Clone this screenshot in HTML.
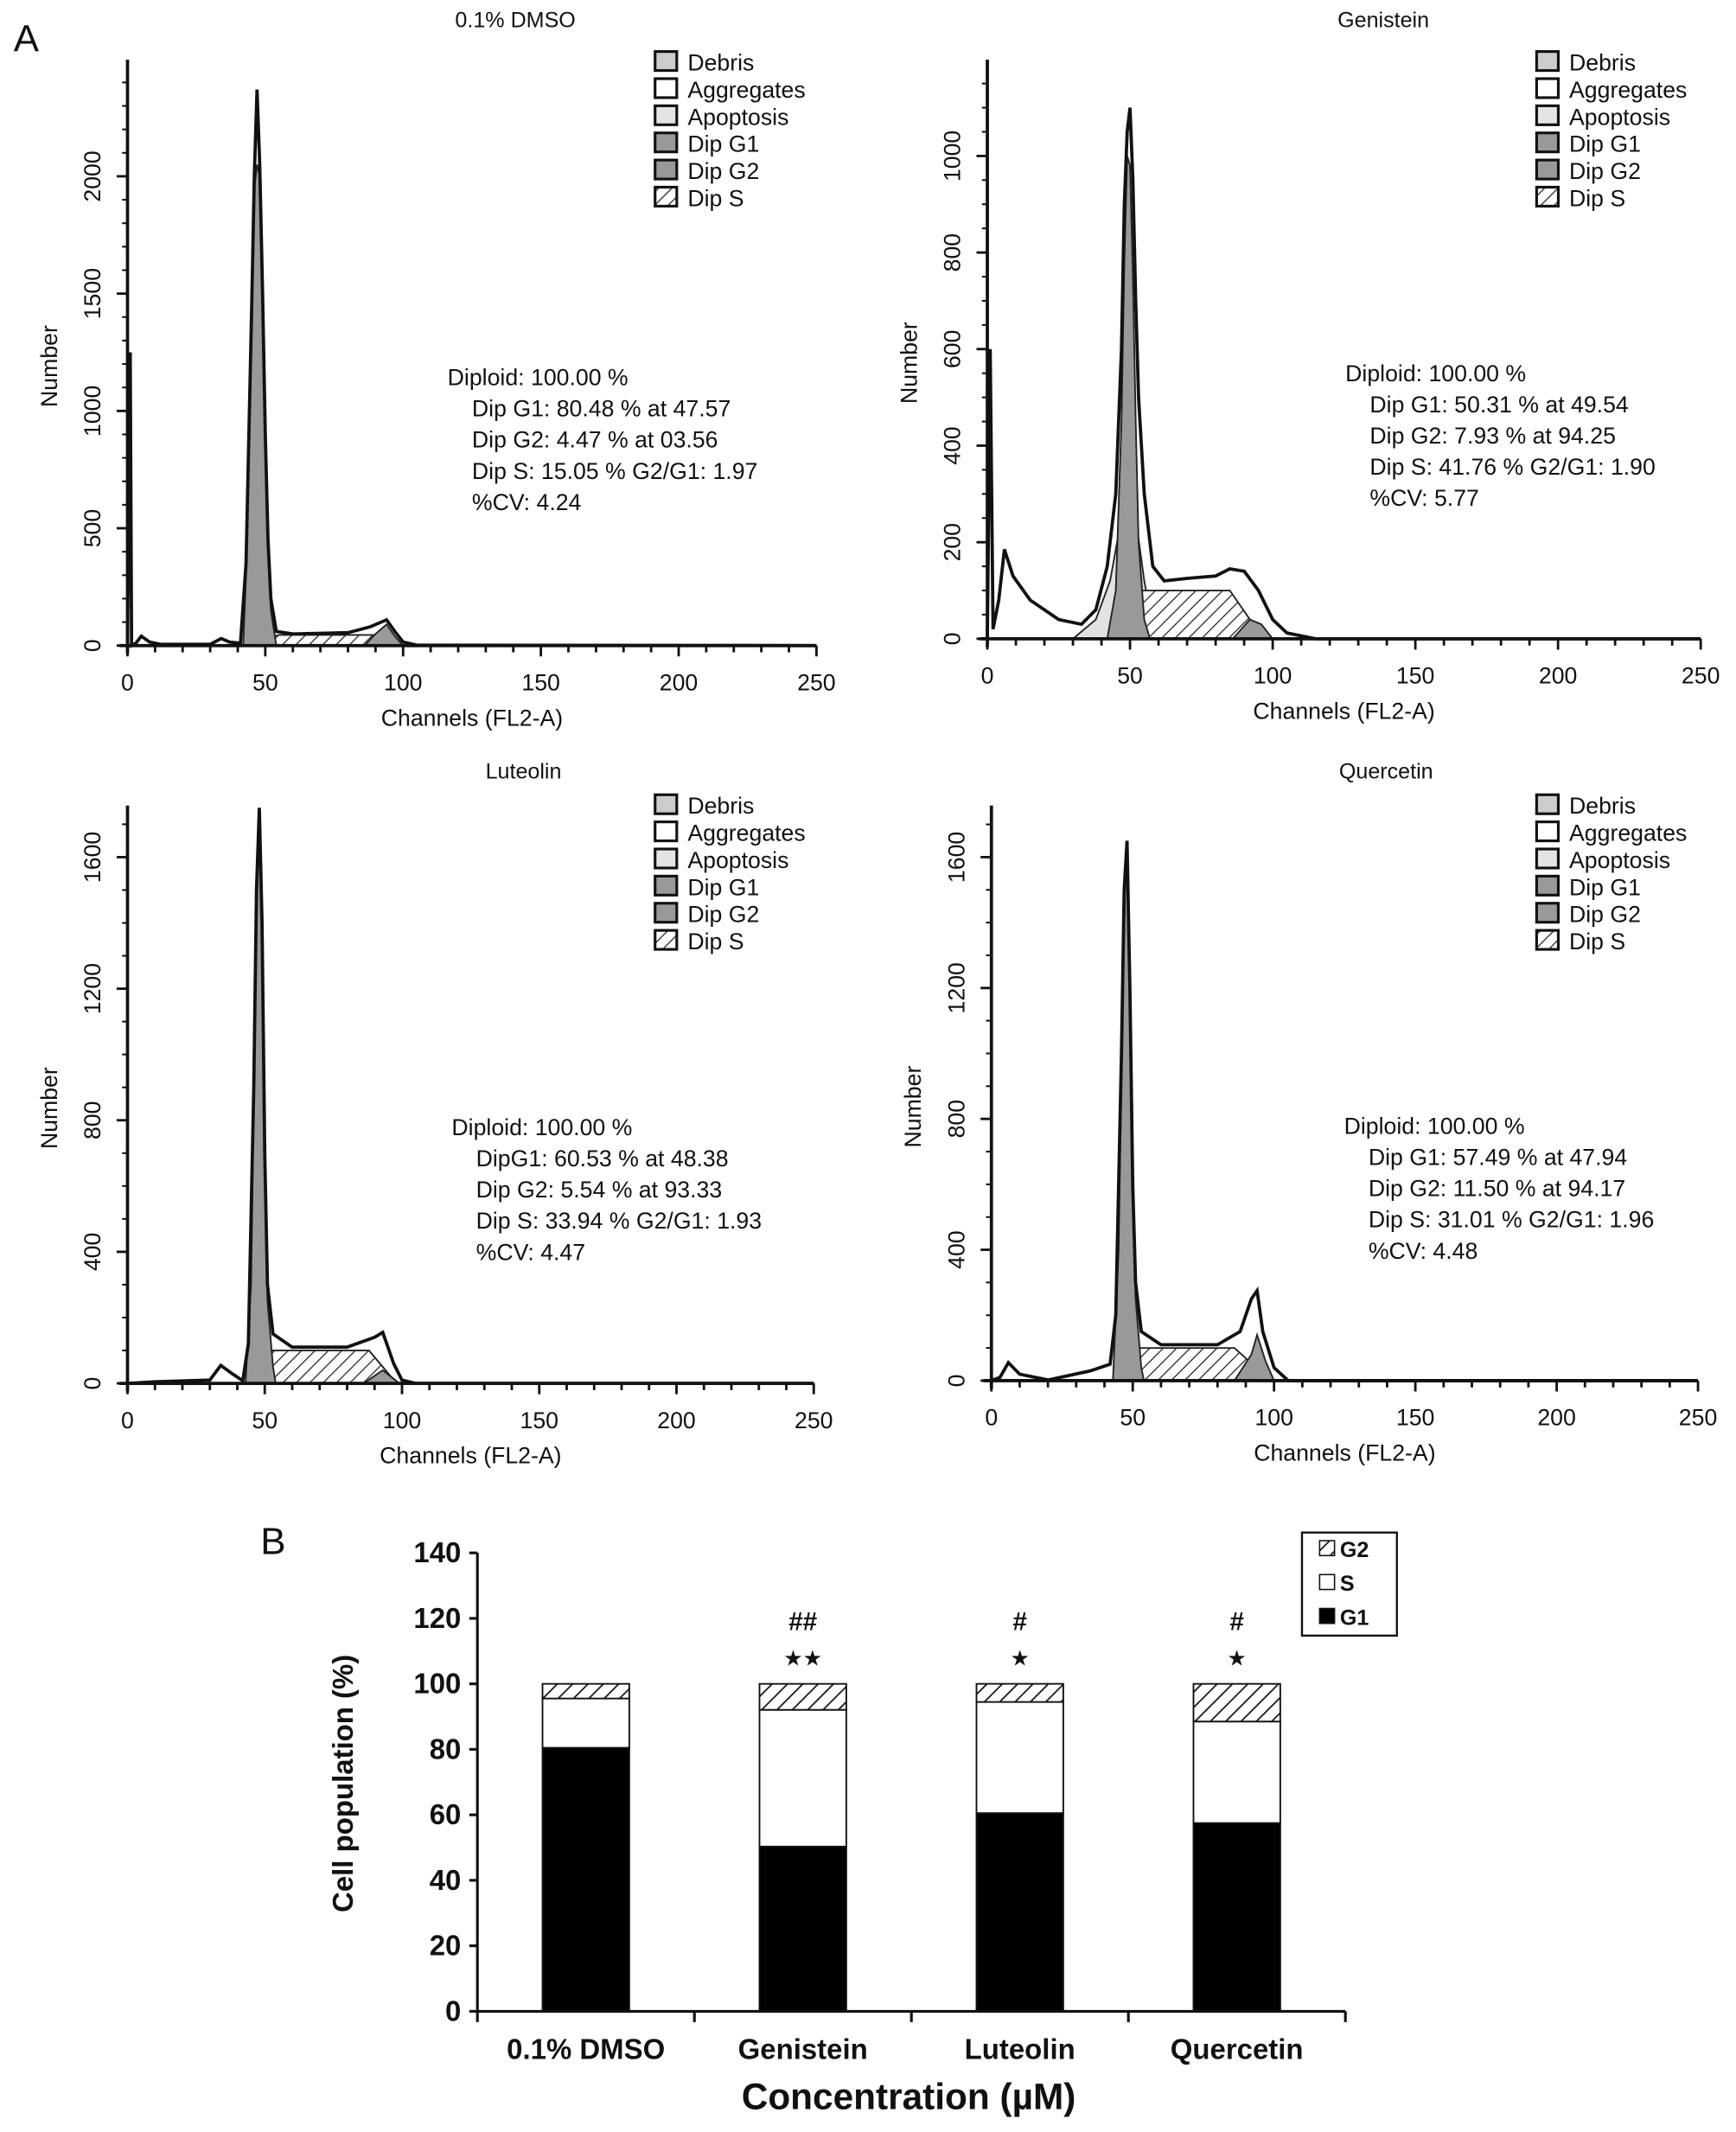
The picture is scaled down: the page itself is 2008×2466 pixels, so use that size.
<!DOCTYPE html>
<html><head><meta charset="utf-8"><style>
html,body{margin:0;padding:0;background:#fff}
svg{display:block}
text{font-family:"Liberation Sans",Arial,sans-serif;fill:#111}
</style></head><body>
<svg id="fig" width="2008" height="2466" viewBox="0 0 1280 1572" xmlns="http://www.w3.org/2000/svg">
<defs>
<pattern id="hatch" patternUnits="userSpaceOnUse" width="7" height="7" patternTransform="rotate(45)">
<rect width="7" height="7" fill="#fff"/><line x1="0" y1="0" x2="0" y2="7" stroke="#222" stroke-width="1.6"/></pattern>
<pattern id="hatch2" patternUnits="userSpaceOnUse" width="8" height="8" patternTransform="rotate(45)">
<rect width="8" height="8" fill="#fff"/><line x1="0" y1="0" x2="0" y2="8" stroke="#111" stroke-width="2.2"/></pattern>
</defs>
<text x="10" y="38" font-size="28">A</text>
<text x="192" y="1146" font-size="28">B</text>
<g id="hists"></g>
<g id="bars"></g>
</svg>
<script>
// ---------- Histogram data (channel, count) ----------
const dmsoEnv=[[0,0],[1,1250],[1.5,0],[3,10],[5,40],[8,15],[12,5],[30,5],[34,30],[37,15],[41,10],[43,350],[45,1400],[46,2000],[47,2370],[48,2050],[49,1500],[50,900],[51,450],[52,200],[54,60],[60,50],[80,55],[88,80],[94,110],[97,60],[100,15],[105,2],[250,0]];
const dmsoG1=[[42,0],[43,300],[45,1350],[46,1950],[47,2050],[48,2000],[49,1450],[50,850],[51,400],[52,150],[54,0]];
const dmsoS=[[47,0],[50,30],[55,45],[90,45],[95,10],[96,0]];
const dmsoG2=[[86,0],[90,50],[94,90],[97,40],[100,0]];
const dmsoApo=[];

const genEnv=[[0,0],[1,600],[2,20],[4,80],[6,185],[9,130],[15,80],[25,40],[33,30],[38,60],[42,150],[45,300],[47,600],[48,900],[49,1050],[50,1100],[51,950],[52,700],[53,500],[55,300],[58,150],[62,120],[70,125],[80,130],[85,145],[90,140],[95,100],[100,40],[105,12],[115,0],[250,0]];
const genG1=[[42,0],[45,100],[47,450],[48,780],[49,1000],[50,980],[51,750],[52,450],[53,200],[55,40],[57,0]];
const genS=[[48,0],[52,100],[85,100],[92,40],[98,0]];
const genG2=[[86,0],[92,40],[96,30],[100,0]];
const genApo=[[30,0],[38,40],[43,120],[47,250],[52,250],[55,120],[58,30],[60,0]];

const lutEnv=[[0,0],[10,5],[30,10],[34,55],[38,30],[42,8],[44,120],[46,900],[47,1500],[48,1750],[49,1400],[50,700],[51,300],[53,150],[60,110],[80,110],[90,140],[93,155],[97,60],[100,10],[105,0],[250,0]];
const lutG1=[[43,0],[45,300],[46,850],[47,1450],[48,1700],[49,1350],[50,650],[51,250],[53,50],[54,0]];
const lutS=[[47,0],[52,100],[88,100],[96,20],[99,0]];
const lutG2=[[86,0],[93,40],[99,0]];
const lutApo=[];

const queEnv=[[0,0],[3,10],[6,55],[10,20],[20,2],[35,30],[42,50],[44,200],[46,1000],[47,1500],[48,1650],[49,1200],[50,600],[51,300],[53,150],[60,110],[80,110],[88,150],[92,250],[94,275],[96,150],[100,40],[105,0],[250,0]];
const queG1=[[43,0],[45,400],[46,950],[47,1450],[48,1600],[49,1150],[50,550],[51,250],[53,40],[54,0]];
const queS=[[47,0],[52,100],[86,100],[95,30],[98,0]];
const queG2=[[86,0],[92,80],[94,140],[97,60],[100,0]];
const queApo=[];

// ---------- Bar chart data ----------
const barCategories=["0.1% DMSO","Genistein","Luteolin","Quercetin"];
const g1Values=[80.48,50.31,60.53,57.49];
const sValues=[15.05,41.76,33.94,31.01];
const g2Values=[4.47,7.93,5.54,11.50];
const hashMarks=["","##","#","#"];
const starMarks=["","★★","★","★"];
const barTicks=[0,20,40,60,80,100,120,140];

const NS="http://www.w3.org/2000/svg";
function mk(tag,attrs,parent){const e=document.createElementNS(NS,tag);for(const k in attrs)e.setAttribute(k,attrs[k]);parent.appendChild(e);return e;}

const panels=[
 {title:"0.1% DMSO",x0:94,x1:602,y0:476,yTop:44,perUnit:(476-130)/2000,yTicks:[0,500,1000,1500,2000],yMax:2450,minorStep:100,env:dmsoEnv,g1:dmsoG1,s:dmsoS,g2:dmsoG2,apo:dmsoApo,tx:380,ty:20,lx:483,ly:38,sx:330,sy:284,stats:["Diploid: 100.00 %","Dip G1: 80.48 % at 47.57","Dip G2: 4.47 % at 03.56","Dip S: 15.05 % G2/G1: 1.97","%CV: 4.24"],key:"dmso"},
 {title:"Genistein",x0:728,x1:1254,y0:471,yTop:44,perUnit:(471-115)/1000,yTicks:[0,200,400,600,800,1000],yMax:1200,minorStep:50,env:genEnv,g1:genG1,s:genS,g2:genG2,apo:genApo,tx:1020,ty:20,lx:1133,ly:38,sx:992,sy:281,stats:["Diploid: 100.00 %","Dip G1: 50.31 % at 49.54","Dip G2: 7.93 % at 94.25","Dip S: 41.76 % G2/G1: 1.90","%CV: 5.77"],key:"genistein"},
 {title:"Luteolin",x0:94,x1:600,y0:1020,yTop:594,perUnit:(1020-632)/1600,yTicks:[0,400,800,1200,1600],yMax:1750,minorStep:100,env:lutEnv,g1:lutG1,s:lutS,g2:lutG2,apo:lutApo,tx:386,ty:574,lx:483,ly:586,sx:333,sy:837,stats:["Diploid: 100.00 %","DipG1: 60.53 % at 48.38","Dip G2: 5.54 % at 93.33","Dip S: 33.94 % G2/G1: 1.93","%CV: 4.47"],key:"luteolin"},
 {title:"Quercetin",x0:731,x1:1252,y0:1018,yTop:594,perUnit:(1018-632)/1600,yTicks:[0,400,800,1200,1600],yMax:1750,minorStep:100,env:queEnv,g1:queG1,s:queS,g2:queG2,apo:queApo,tx:1022,ty:574,lx:1133,ly:586,sx:991,sy:836,stats:["Diploid: 100.00 %","Dip G1: 57.49 % at 47.94","Dip G2: 11.50 % at 94.17","Dip S: 31.01 % G2/G1: 1.96","%CV: 4.48"],key:"quercetin"}
];
const legendItems=[["Debris","#ccc"],["Aggregates","#fff"],["Apoptosis","#e4e4e4"],["Dip G1","#999"],["Dip G2","#999"],["Dip S","url(#hatch)"]];

const H=document.getElementById('hists');
panels.forEach(p=>{
 const g=mk('g',{},H);
 
 
 const xs=c=>p.x0+(p.x1-p.x0)*c/250;
 const ys=v=>p.y0-v*p.perUnit;
 const poly=(arr)=>arr.map(d=>xs(d[0]).toFixed(1)+','+ys(d[1]).toFixed(1)).join(' ');
 const t=mk('text',{x:p.tx,y:p.ty,'font-size':16,'text-anchor':'middle'},g);t.textContent=p.title;
 
 
 if(p.apo.length){const e=mk('polygon',{points:poly(p.apo),fill:'#e2e2e2',stroke:'#222','stroke-width':1.2},g);
  }
 const sA=mk('polygon',{points:poly(p.s),fill:'url(#hatch)',stroke:'#222','stroke-width':1.2},g);
 
 const g2A=mk('polygon',{points:poly(p.g2),fill:'#9a9a9a',stroke:'#222','stroke-width':1.2},g);
 
 const g1A=mk('polygon',{points:poly(p.g1),fill:'#999',stroke:'#222','stroke-width':1.2},g);
 
 const env=mk('polyline',{points:poly(p.env),fill:'none',stroke:'#111','stroke-width':2.4},g);
 
 const ax=mk('g',{},g);
 mk('line',{x1:xs(0)-6,y1:p.y0,x2:xs(250),y2:p.y0,stroke:'#111','stroke-width':2.4},ax);
 mk('line',{x1:xs(0),y1:p.y0+6,x2:xs(0),y2:p.yTop,stroke:'#111','stroke-width':2.4},ax);
 for(let c=0;c<=250;c+=10){const major=c%50===0;
  mk('line',{x1:xs(c),y1:p.y0,x2:xs(c),y2:p.y0+(major?8:5),stroke:'#111','stroke-width':1.8},ax);
  if(major){const tl=mk('text',{x:xs(c),y:p.y0+33,'font-size':17,'text-anchor':'middle'},ax);tl.textContent=c;}}
 for(let v=0;v<=p.yMax;v+=p.minorStep){const yy=ys(v);if(yy<p.yTop)break;
  mk('line',{x1:xs(0)-4,y1:yy,x2:xs(0),y2:yy,stroke:'#111','stroke-width':1.3},ax);}
 p.yTicks.forEach(v=>{const yy=ys(v);mk('line',{x1:xs(0)-8,y1:yy,x2:xs(0),y2:yy,stroke:'#111','stroke-width':1.8},ax);
  const tl=mk('text',{x:xs(0)-20,y:yy,'font-size':17,'text-anchor':'middle',transform:`rotate(-90 ${xs(0)-20} ${yy})`},ax);tl.textContent=v;});
 const xl=mk('text',{x:(xs(0)+xs(250))/2,y:p.y0+59,'font-size':17,'text-anchor':'middle'},g);xl.textContent='Channels (FL2-A)';
 
 const ylx=xs(0)-52,yly=(p.y0+p.yTop)/2+10;
 const yl=mk('text',{x:ylx,y:yly,'font-size':17,'text-anchor':'middle',transform:`rotate(-90 ${ylx} ${yly})`},g);yl.textContent='Number';
 
 const lg=mk('g',{},g);
 legendItems.forEach((it,i)=>{const yy=p.ly+i*20;
  mk('rect',{x:p.lx,y:yy,width:16,height:14,fill:it[1],stroke:'#111','stroke-width':2},lg);
  const tt=mk('text',{x:p.lx+24,y:yy+14,'font-size':17},lg);tt.textContent=it[0];});
 const st=mk('g',{},g);
 p.stats.forEach((s,i)=>{const tt=mk('text',{x:p.sx+(i?18:0),y:p.sy+i*23,'font-size':17},st);tt.textContent=s;});
});

// ---------- Bar chart ----------
const B=document.getElementById('bars');


const bx0=352,bx1=992,by0=1483,byPer=(1483-1145)/140,bw=64;
const byS=v=>by0-v*byPer;
const bxC=i=>bx0+(bx1-bx0)*(i+0.5)/barCategories.length;
barCategories.forEach((c,i)=>{
 const cx=bxC(i);
 const bars=[[g1Values[i],'#000','g1'],[sValues[i],'#fff','s'],[g2Values[i],'url(#hatch2)','g2']];
 let acc=0;
 bars.forEach(b=>{const r=mk('rect',{x:cx-bw/2,y:byS(acc+b[0]),width:bw,height:b[0]*byPer,fill:b[1],stroke:'#111','stroke-width':1.2},B);
  acc+=b[0];});
 const lab=mk('text',{x:cx,y:1518,'font-size':21,'font-weight':'bold','text-anchor':'middle'},B);lab.textContent=c;
 
 if(hashMarks[i]){const h=mk('text',{x:cx,y:1202,'font-size':19,'font-weight':'bold','text-anchor':'middle'},B);h.textContent=hashMarks[i];
  
  const s=mk('text',{x:cx,y:1228,'font-size':16,'text-anchor':'middle'},B);s.textContent=starMarks[i];
  }
});
mk('line',{x1:bx0,y1:by0,x2:bx1,y2:by0,stroke:'#111','stroke-width':2},B);
mk('line',{x1:bx0,y1:by0,x2:bx0,y2:byS(140),stroke:'#111','stroke-width':2},B);
for(let i=0;i<=barCategories.length;i++){const xx=bx0+(bx1-bx0)*i/barCategories.length;mk('line',{x1:xx,y1:by0,x2:xx,y2:by0+8,stroke:'#111','stroke-width':2},B);}
barTicks.forEach(v=>{mk('line',{x1:bx0-6,y1:byS(v),x2:bx0,y2:byS(v),stroke:'#111','stroke-width':2},B);
 const t=mk('text',{x:bx0-12,y:byS(v)+7,'font-size':21,'font-weight':'bold','text-anchor':'end'},B);t.textContent=v;});
const byt=mk('text',{x:260,y:1315,'font-size':21,'font-weight':'bold','text-anchor':'middle',transform:'rotate(-90 260 1315)'},B);byt.textContent='Cell population (%)';

const bxt=mk('text',{x:670,y:1555,'font-size':27,'font-weight':'bold','text-anchor':'middle'},B);bxt.textContent='Concentration (µM)';

const blg=mk('g',{},B);
mk('rect',{x:960,y:1130,width:70,height:76,fill:'#fff',stroke:'#111','stroke-width':1.5},blg);
[["G2","url(#hatch2)"],["S","#fff"],["G1","#000"]].forEach((it,i)=>{const yy=1136+i*25;
 mk('rect',{x:973,y:yy,width:11,height:11,fill:it[1],stroke:'#111','stroke-width':1},blg);
 const t=mk('text',{x:988,y:yy+12,'font-size':16,'font-weight':'bold'},blg);t.textContent=it[0];});
</script>
</body></html>
